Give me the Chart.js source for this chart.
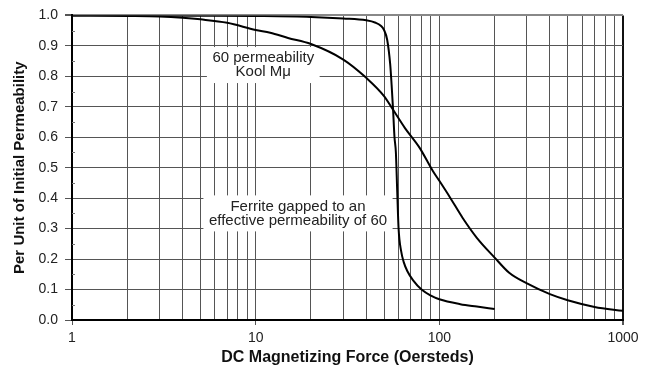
<!DOCTYPE html>
<html>
<head>
<meta charset="utf-8">
<script src="https://cdn.jsdelivr.net/npm/chart.js@4.4.1/dist/chart.umd.min.js"></script>
<style>
  html, body { margin: 0; background: #fff; }
  #wrap { width: 652px; height: 371px; }
</style>
</head>
<body>
<div id="wrap"><canvas id="chart" width="652" height="371"></canvas></div>
<script>
// DC bias rolloff, Kool Mu 60 perm vs gapped ferrite at the same effective perm
const koolH = [1, 2, 3, 4, 5, 7, 10, 12, 15, 20, 30, 40, 50, 56, 65, 78, 92, 100, 115, 134, 160, 200, 240, 300, 400, 500, 700, 1000];
const koolPerm = [1.0, 0.998, 0.996, 0.992, 0.987, 0.976, 0.952, 0.943, 0.926, 0.906, 0.855, 0.795, 0.735, 0.69, 0.63, 0.566, 0.49, 0.457, 0.40, 0.335, 0.27, 0.205, 0.155, 0.12, 0.085, 0.065, 0.043, 0.03];

const ferriteH = [1, 5, 10, 20, 30, 40, 45, 48, 50, 52, 54, 55, 56, 57, 58, 59, 60, 62, 64, 67, 72, 80, 90, 100, 130, 160, 200];
const ferritePerm = [1.0, 0.999, 0.998, 0.995, 0.99, 0.984, 0.976, 0.966, 0.952, 0.92, 0.84, 0.77, 0.69, 0.6, 0.55, 0.42, 0.30, 0.225, 0.19, 0.16, 0.13, 0.1, 0.08, 0.068, 0.052, 0.044, 0.036];

const xDecades = [1, 10, 100, 1000];

// curve labels, anchored in data units (oersteds, per-unit perm)
const notes = [
  { lines: ['60 permeability', 'Kool M\u03bc'], h: 11, perm: 0.837 },
  { lines: ['Ferrite gapped to an', 'effective permeability of 60'], h: 17, perm: 0.35 }
];

const FONT = '"Liberation Sans", Arial, sans-serif';
const isDecade = v => xDecades.includes(v);

const toPoints = (xs, ys) => xs.map((h, i) => ({ x: h, y: ys[i] }));

const notesPlugin = {
  id: 'notes',
  beforeDatasetsDraw(chart) {
    const { ctx, scales: { x, y } } = chart;
    ctx.save();
    // short inner ticks halfway between the horizontal gridlines
    ctx.strokeStyle = '#777';
    ctx.lineWidth = 1;
    for (let k = 0; k < 10; k++) {
      const py = Math.round(y.getPixelForValue(0.05 + k * 0.1)) + 0.5;
      ctx.beginPath();
      ctx.moveTo(x.left, py);
      ctx.lineTo(x.left + 3, py);
      ctx.stroke();
    }
    ctx.font = '15px ' + FONT;
    ctx.textAlign = 'center';
    ctx.textBaseline = 'middle';
    const lh = 14;
    notes.forEach(n => {
      const cx = x.getPixelForValue(n.h);
      const cy = y.getPixelForValue(n.perm);
      const w = Math.max(...n.lines.map(t => ctx.measureText(t).width)) + 11;
      const hgt = n.lines.length * lh + 8;
      ctx.fillStyle = '#fff';
      ctx.fillRect(cx - w / 2, cy - hgt / 2, w, hgt);
      ctx.fillStyle = '#222';
      n.lines.forEach((t, i) => {
        ctx.fillText(t, cx, cy + (i - (n.lines.length - 1) / 2) * lh);
      });
    });
    ctx.restore();
  }
};

const lineStyle = {
  borderColor: '#000',
  borderWidth: 2,
  pointRadius: 0,
  fill: false,
  cubicInterpolationMode: 'monotone'
};

new Chart(document.getElementById('chart'), {
  type: 'line',
  data: {
    datasets: [
      Object.assign({ label: 'Kool Mu 60', data: toPoints(koolH, koolPerm) }, lineStyle),
      Object.assign({ label: 'Gapped ferrite', data: toPoints(ferriteH, ferritePerm) }, lineStyle)
    ]
  },
  options: {
    responsive: false,
    animation: false,
    devicePixelRatio: 1,
    layout: { padding: { left: 0, top: 14, right: 29, bottom: 0 } },
    plugins: {
      legend: { display: false },
      tooltip: { enabled: false }
    },
    scales: {
      x: {
        type: 'logarithmic',
        min: 1,
        max: 1000,
        afterFit: s => { s.height = 51; },
        afterBuildTicks: s => {
          const t = [];
          xDecades.slice(0, -1).forEach(d => {
            for (let m = 1; m < 10; m++) t.push({ value: d * m });
          });
          t.push({ value: xDecades[xDecades.length - 1] });
          s.ticks = t;
        },
        grid: {
          color: c => (c.tick && c.tick.value === 1000) ? '#111' : '#555',
          lineWidth: c => (c.tick && c.tick.value === 1000) ? 2 : 1,
          tickColor: c => (c.tick && isDecade(c.tick.value)) ? '#555' : 'rgba(0,0,0,0)',
          tickLength: 5
        },
        border: { color: '#000', width: 2 },
        ticks: {
          autoSkip: false,
          maxRotation: 0,
          padding: 5,
          color: '#222',
          font: { family: FONT, size: 14 },
          callback: v => isDecade(v) ? String(v) : ''
        },
        title: {
          display: true,
          text: 'DC Magnetizing Force (Oersteds)',
          color: '#111',
          font: { family: FONT, size: 16, weight: 'bold' },
          padding: { top: 0, bottom: 4 }
        }
      },
      y: {
        min: 0,
        max: 1,
        afterFit: s => { s.width = 72; },
        grid: {
          color: c => (c.tick && c.tick.value === 1) ? '#888' : '#555',
          lineWidth: c => (c.tick && c.tick.value === 1) ? 2 : 1,
          tickColor: '#555',
          tickLength: 7
        },
        border: { color: '#000', width: 2 },
        ticks: {
          stepSize: 0.1,
          padding: 7,
          color: '#222',
          font: { family: FONT, size: 14 },
          callback: v => v.toFixed(1)
        },
        title: {
          display: true,
          text: 'Per Unit of Initial Permeability',
          color: '#111',
          font: { family: FONT, size: 15, weight: 'bold' },
          padding: { top: 11, bottom: 0 }
        }
      }
    }
  },
  plugins: [notesPlugin]
});
</script>
</body>
</html>
